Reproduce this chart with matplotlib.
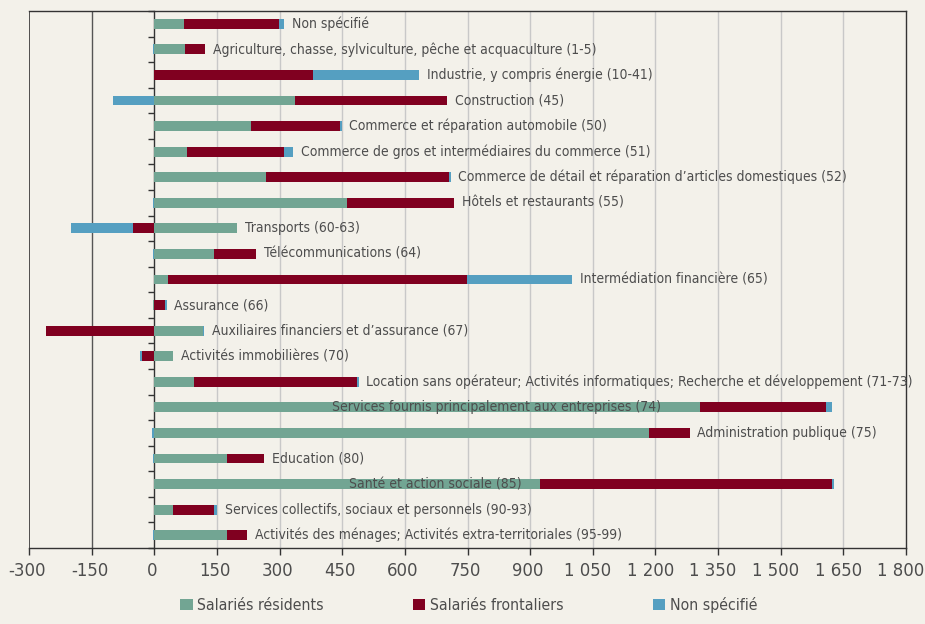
import matplotlib
matplotlib.use("Agg")
import matplotlib.pyplot as plt
import matplotlib.transforms as mtransforms
import numpy as np
from matplotlib.ticker import FuncFormatter
from matplotlib import font_manager

# pick a condensed font if one is installed
cond = None
stretch = 'normal'
for f in font_manager.fontManager.ttflist:
    if f.stretch in ('condensed', 'semi-condensed', 'extra-condensed') or 'Condensed' in f.name or 'Narrow' in f.name:
        if f.style == 'normal' and f.weight in (400, 'normal', 'regular'):
            cond = f.name
            stretch = f.stretch
            break
if cond:
    plt.rcParams['font.family'] = [cond, 'DejaVu Sans']
    plt.rcParams['font.stretch'] = stretch
    lab_fs, tick_fs, leg_fs = 10, 13.2, 11.3
else:
    plt.rcParams['font.family'] = ['DejaVu Sans']
    lab_fs, tick_fs, leg_fs = 9, 11, 10

categories = [
    "Non spécifié",
    "Agriculture, chasse, sylviculture, pêche et acquaculture (1-5)",
    "Industrie, y compris énergie (10-41)",
    "Construction (45)",
    "Commerce et réparation automobile (50)",
    "Commerce de gros et intermédiaires du commerce (51)",
    "Commerce de détail et réparation d’articles domestiques (52)",
    "Hôtels et restaurants (55)",
    "Transports (60-63)",
    "Télécommunications (64)",
    "Intermédiation financière (65)",
    "Assurance (66)",
    "Auxiliaires financiers et d’assurance (67)",
    "Activités immobilières (70)",
    "Location sans opérateur; Activités informatiques; Recherche et développement (71-73)",
    "Services fournis principalement aux entreprises (74)",
    "Administration publique (75)",
    "Education (80)",
    "Santé et action sociale (85)",
    "Services collectifs, sociaux et personnels (90-93)",
    "Activités des ménages; Activités extra-territoriales (95-99)",
]
residents = [70, 74, 0, 336, 231, 78, 267, 461, 199, 142, 34, -2, 117, 46, 94, 1307, 1185, 175, 924, 46, 175]
frontaliers = [228, 48, 380, 366, 214, 233, 439, 257, -50, 102, 715, 26, -260, -30, 391, 301, 97, 88, 700, 96, 48]
non_specifie = [13, -3, 254, -99, 4, 21, 4, -3, -149, -3, 251, 4, 3, -5, 4, 16, -6, -3, 4, 9, -3]

series_names = ["Salariés résidents", "Salariés frontaliers", "Non spécifié"]
colors = ["#72a593", "#800020", "#559fc1"]
xticks = list(range(-300, 1801, 150))

bg = "#f3f1ea"
txt = "#4d4d4d"

fig = plt.figure(figsize=(9.25, 6.24), dpi=100, facecolor=bg)
ax = fig.add_axes([29/925, 1-548/624, (906-29)/925, (548-11)/624])
ax.set_facecolor(bg)

n = len(categories)
y = np.arange(n)
h = 0.38
pos_base = np.zeros(n)
neg_base = np.zeros(n)
for vals, col, name in zip([residents, frontaliers, non_specifie], colors, series_names):
    v = np.array(vals, dtype=float)
    left = np.where(v >= 0, pos_base, neg_base)
    ax.barh(y, v, left=left, height=h, color=col, label=name, zorder=3, linewidth=0)
    pos_base = pos_base + np.where(v > 0, v, 0)
    neg_base = neg_base + np.where(v < 0, v, 0)

# labels
inside_label_x = {15: 425, 18: 466}
for i, cat in enumerate(categories):
    if i in inside_label_x:
        ax.text(inside_label_x[i], y[i], cat, ha='left', va='center', fontsize=lab_fs,
                color=txt, zorder=4)
    else:
        ax.annotate(cat, (pos_base[i], y[i]), xytext=(5.5, 0), textcoords='offset points',
                    ha='left', va='center', fontsize=lab_fs, color=txt, zorder=4)

ax.set_xlim(-300, 1800)
ax.set_ylim(n - 0.5, -0.5)
ax.set_xticks(xticks)
ax.xaxis.set_major_formatter(FuncFormatter(lambda v, p: f"{int(v):,}".replace(",", " ")))
ax.tick_params(axis='x', direction='out', length=5, width=1, color="#333333",
               labelsize=tick_fs, labelcolor=txt, pad=5)
ax.set_yticks(np.arange(-0.5, n, 1.0))
ax.set_yticklabels([])
ax.tick_params(axis='y', direction='out', length=4, width=1, color="#333333")
ax.spines['left'].set_position(('data', 0))
for s in ['top', 'right', 'bottom', 'left']:
    ax.spines[s].set_color("#333333")
    ax.spines[s].set_linewidth(1)
for xv in xticks:
    if xv == -300:
        ax.axvline(xv, color="#333333", lw=1.2, zorder=2)
    elif xv == -150:
        ax.axvline(xv, color="#555555", lw=1, zorder=2)
    elif xv not in (0, 1800):
        ax.axvline(xv, color="#c8c8c8", lw=1, zorder=1)

leg = fig.legend(loc='center', bbox_to_anchor=(469/925, 1-605/624), ncol=3, frameon=False,
                 fontsize=leg_fs, handlelength=0.77, handleheight=0.77, columnspacing=5.7,
                 handletextpad=0.3, labelcolor=txt, borderaxespad=0, borderpad=0)

fig.canvas.draw()
for tk, xv in zip(ax.xaxis.get_major_ticks(), xticks):
    dx = -5 if xv >= 1050 else -2
    tk.label1.set_transform(tk.label1.get_transform() +
                            mtransforms.ScaledTranslation(dx/100, 0, fig.dpi_scale_trans))

fig.savefig("out.png", dpi=100, facecolor=bg)
